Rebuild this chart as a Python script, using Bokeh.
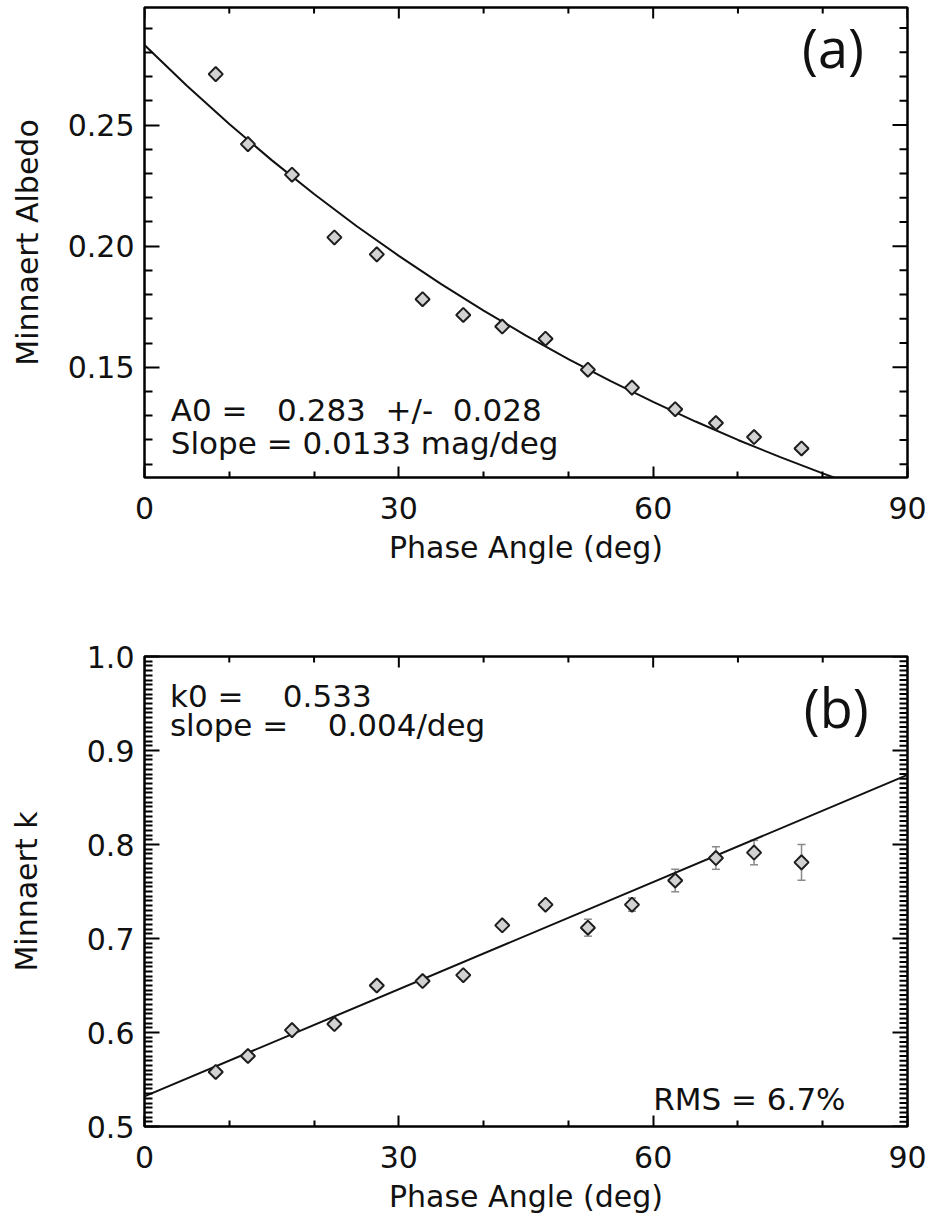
import math
from bokeh.plotting import figure
from bokeh.models import (Range1d, FixedTicker, Label, Whisker, TeeHead,
                          ColumnDataSource, PrintfTickFormatter)
from bokeh.layouts import column
from bokeh.embed import file_html
from bokeh.resources import INLINE

# ---------------- data ----------------
phase_angle = [8.4, 12.2, 17.4, 22.4, 27.4, 32.8, 37.6, 42.2, 47.3, 52.3, 57.5, 62.6, 67.4, 71.9, 77.5]
albedo = [0.2710, 0.2421, 0.2295, 0.2036, 0.1966, 0.1781, 0.1716, 0.1668, 0.1618, 0.1490, 0.1416, 0.1327,
          0.1270, 0.1212, 0.1165]
minnaert_k = [0.558, 0.575, 0.6025, 0.609, 0.650, 0.6547, 0.661, 0.714, 0.736, 0.7115, 0.736, 0.7617,
              0.7856, 0.7914, 0.781]
k_err = [0.003, 0.003, 0.003, 0.004, 0.004, 0.004, 0.004, 0.004, 0.004, 0.009, 0.007, 0.012, 0.012, 0.013, 0.019]

albedo_fit_x = [0, 5, 10, 15, 20, 25, 30, 35, 40, 45, 50, 55, 60, 65, 70, 75, 80, 85]
albedo_fit_y = [0.2830, 0.2662, 0.2504, 0.2355, 0.2215, 0.2083, 0.1960, 0.1843, 0.1734, 0.1631, 0.1534,
                0.1443, 0.1357, 0.1276, 0.1200, 0.1129, 0.1062, 0.0999]
k_fit_x = [0, 90]
k_fit_y = [0.532, 0.874]

x_major = [0, 30, 60, 90]
x_minor = [10, 20, 40, 50, 70, 80]
ya_major = [0.15, 0.20, 0.25]
ya_minor = [0.11, 0.12, 0.13, 0.14, 0.16, 0.17, 0.18, 0.19, 0.21, 0.22, 0.23, 0.24, 0.26, 0.27, 0.28, 0.29]
yk_major = [0.5, 0.6, 0.7, 0.8, 0.9, 1.0]
yk_minor = [round(0.5 + 0.005 * i, 3) for i in range(1, 100) if i % 20 != 0]

FONT = "DejaVu Sans"
TXT = "#111111"
NB = "\u00a0"
FW, FH = 763, 470
XR = (0, 90)


def make_fig(yr, ymaj, ymin, yfmt, ylabel, top_border, bottom_border, ylab_standoff):
    p = figure(frame_width=FW, frame_height=FH, x_range=Range1d(*XR), y_range=Range1d(*yr),
               output_backend="svg", toolbar_location=None,
               min_border_left=144, min_border_right=26,
               min_border_top=top_border, min_border_bottom=bottom_border,
               x_axis_label="Phase Angle (deg)", y_axis_label=ylabel)
    p.grid.visible = False
    p.outline_line_color = "black"
    p.outline_line_width = 2.5
    p.background_fill_color = "white"
    p.border_fill_color = "white"

    xa = p.xaxis[0]
    xa.ticker = FixedTicker(ticks=x_major, minor_ticks=x_minor)
    ya = p.yaxis[0]
    ya.ticker = FixedTicker(ticks=ymaj, minor_ticks=ymin)
    ya.formatter = PrintfTickFormatter(format=yfmt)

    for ax in (xa, ya):
        ax.axis_line_color = None
        ax.major_tick_out = 0
        ax.minor_tick_out = 0
        ax.major_tick_line_color = "black"
        ax.minor_tick_line_color = "black"
        ax.major_tick_line_width = 2
        ax.minor_tick_line_width = 2
        ax.major_label_text_font = FONT
        ax.major_label_text_font_size = "30px"
        ax.major_label_text_color = TXT
        ax.axis_label_text_font = FONT
        ax.axis_label_text_font_size = "30px"
        ax.axis_label_text_font_style = "normal"
        ax.axis_label_text_color = TXT
    xa.major_tick_in = 11
    xa.minor_tick_in = 6
    xa.major_label_standoff = 19
    xa.axis_label_standoff = 8
    ya.major_tick_in = 15
    ya.minor_tick_in = 8
    ya.major_label_standoff = 10
    ya.axis_label_standoff = ylab_standoff

    # box ticks on the top and right edges (drawn as short segments)
    xpp = (XR[1] - XR[0]) / FW
    ypp = (yr[1] - yr[0]) / FH
    for ticks, L in ((x_major, 11), (x_minor, 6)):
        p.segment(x0=ticks, y0=[yr[1]] * len(ticks), x1=ticks, y1=[yr[1] - L * ypp] * len(ticks),
                  line_color="black", line_width=2)
    for ticks, L in ((ymaj, 15), (ymin, 8)):
        p.segment(x0=[XR[1]] * len(ticks), y0=ticks, x1=[XR[1] - L * xpp] * len(ticks), y1=ticks,
                  line_color="black", line_width=2)
    return p


def note(p, x, y, text, size="31px", font=FONT, align="left", baseline="alphabetic"):
    p.add_layout(Label(x=x, y=y, text=text, text_font=font, text_font_size=size, text_color=TXT,
                       text_align=align, text_baseline=baseline))


# ---------------- panel (a) ----------------
p1 = make_fig((0.1045, 0.2985), ya_major, ya_minor, "%.2f", "Minnaert Albedo", 7, 135, 20)
p1.line(albedo_fit_x, albedo_fit_y, line_color="#111111", line_width=2)
p1.scatter(phase_angle, albedo, marker="square", angle=math.pi / 4, size=10,
           fill_color="#d2d2d2", line_color="#1e1e1e", line_width=2)
note(p1, 3.1, 0.1322, "A0 =" + NB * 3 + "0.283" + NB * 2 + "+/-" + NB * 2 + "0.028")
note(p1, 3.1, 0.1187, "Slope = 0.0133 mag/deg")
note(p1, 81.2, 0.2820, "(a)", size="54px", font="Open Sans", align="center", baseline="middle")

# ---------------- panel (b) ----------------
p2 = make_fig((0.5, 1.0), yk_major, yk_minor, "%.1f", "Minnaert k", 44, 99, 40)
p2.line(k_fit_x, k_fit_y, line_color="#111111", line_width=2)
src = ColumnDataSource(dict(x=phase_angle, y=minnaert_k,
                            lo=[v - e for v, e in zip(minnaert_k, k_err)],
                            hi=[v + e for v, e in zip(minnaert_k, k_err)]))
p2.add_layout(Whisker(source=src, base="x", lower="lo", upper="hi", line_color="#8a8a8a", line_width=1.5,
                      upper_head=TeeHead(size=8, line_color="#8a8a8a", line_width=1.5),
                      lower_head=TeeHead(size=8, line_color="#8a8a8a", line_width=1.5)))
p2.scatter("x", "y", source=src, marker="square", angle=math.pi / 4, size=10,
           fill_color="#d2d2d2", line_color="#1e1e1e", line_width=2)
note(p2, 3.0, 0.9578, "k0 =" + NB * 4 + "0.533")
note(p2, 3.0, 0.9275, "slope =" + NB * 4 + "0.004/deg")
note(p2, 60.0, 0.5290, "RMS = 6.7%")
note(p2, 81.6, 0.9465, "(b)", size="54px", font="Open Sans", align="center", baseline="middle")

layout = column(p1, p2, spacing=0)
open("out.html", "w").write(file_html(layout, INLINE))
